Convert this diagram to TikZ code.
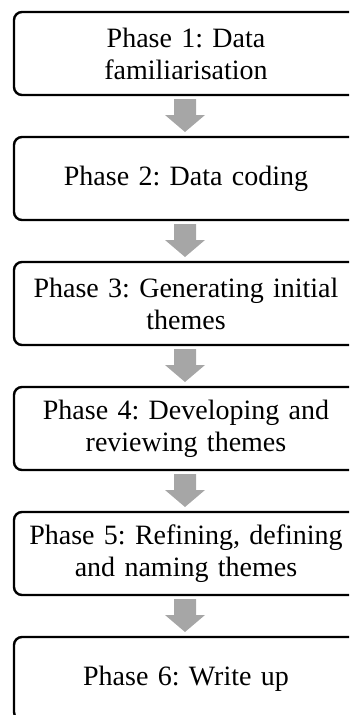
\documentclass[tikz,border=0pt]{standalone}
\usepackage{fontspec}
\setmainfont{Liberation Serif}
\usetikzlibrary{calc}
\definecolor{arrowgray}{HTML}{A6A6A6}
\frenchspacing
\tikzset{
  phasebox/.style={draw=black, line width=2.4pt, rounded corners=8pt,
    minimum width=344pt, minimum height=83pt, outer sep=0pt, inner sep=0pt,
    text width=330pt, align=center,
    font=\fontsize{28}{32}\selectfont},
  blockarrow/.style={fill=arrowgray, to path={
    let \p1=(\tikztostart), \p2=(\tikztotarget) in
    (\x1-11pt,\y1) -- (\x1+11pt,\y1) -- (\x1+11pt,\y2+17pt) -- (\x1+20pt,\y2+17pt)
    -- (\x1,\y2) -- (\x1-20pt,\y2+17pt) -- (\x1-11pt,\y2+17pt) -- cycle}}
}
\begin{document}
\begin{tikzpicture}[x=1pt,y=1pt]
  \useasboundingbox (0,0) rectangle (349,-715);
  \clip (0,0) rectangle (349,-715);
  % the six phases, one box each
  \node[phasebox] (p1) at (186,-53.5)  {Phase 1: Data\\familiarisation};
  \node[phasebox] (p2) at (186,-178.5) {Phase 2: Data coding};
  \node[phasebox] (p3) at (186,-303.5) {Phase 3: Generating initial\\themes};
  \node[phasebox] (p4) at (186,-428.5) {Phase 4: Developing and\\reviewing themes};
  \node[phasebox] (p5) at (186,-553.5) {Phase 5: Refining, defining\\and naming themes};
  \node[phasebox] (p6) at (186,-678.5) {Phase 6: Write up};
  % grey block arrows between consecutive phases
  \foreach \a/\b in {p1/p2,p2/p3,p3/p4,p4/p5,p5/p6}
    \path[blockarrow] ([shift={(-1pt,-4pt)}]\a.south) to ([shift={(-1pt,5pt)}]\b.north);
\end{tikzpicture}
\end{document}
